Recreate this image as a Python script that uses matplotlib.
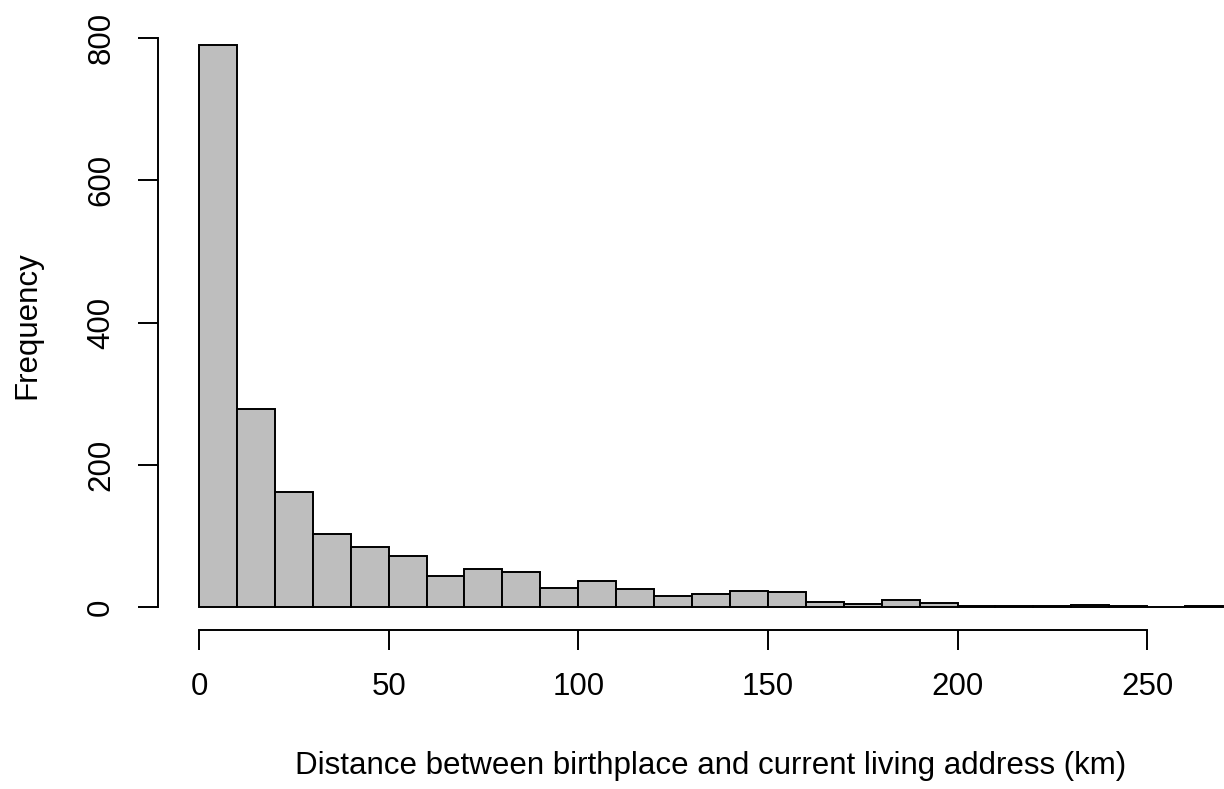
import numpy as np
import matplotlib
matplotlib.use('Agg')
import matplotlib.pyplot as plt

plt.rcParams['font.family'] = ['Liberation Sans', 'DejaVu Sans']

# histogram bins (km) and counts
bin_edges = list(range(0, 280, 10))
counts = [790, 279, 162, 102, 85, 72, 44, 53, 49, 27, 36, 25, 15, 18,
          23, 21, 7, 4, 10, 6, 2, 2, 2, 3, 2, 0, 1]
x_ticks = [0, 50, 100, 150, 200, 250]
y_ticks = [0, 200, 400, 600, 800]

fs = 22.5
lw = 1.4

fig = plt.figure(figsize=(12.24, 7.89), dpi=100)
# plot region like R's, right side runs past the figure edge
ax = fig.add_axes([158/1224, 159.5/789, 1106/1224, 606.7/789])

ax.bar(bin_edges[:-1], counts, width=10, align='edge',
       color='#bebebe', edgecolor='black', linewidth=lw)

# R style 4% extension of the data range
xr = bin_edges[-1] - bin_edges[0]
ax.set_xlim(bin_edges[0] - 0.04*xr, bin_edges[-1] + 0.04*xr)
yr = max(counts)
ax.set_ylim(-0.04*yr, yr*1.04)

for s in ['top', 'right']:
    ax.spines[s].set_visible(False)
ax.spines['left'].set_bounds(y_ticks[0], y_ticks[-1])
ax.spines['bottom'].set_bounds(x_ticks[0], x_ticks[-1])
ax.spines['left'].set_linewidth(lw)
ax.spines['bottom'].set_linewidth(lw)

ax.set_xticks(x_ticks)
ax.set_yticks(y_ticks)
ax.tick_params(length=14.4, width=lw, labelsize=fs)
ax.tick_params(axis='x', pad=16)
ax.tick_params(axis='y', pad=26.5)
plt.setp(ax.get_yticklabels(), rotation=90, va='center', ha='center')

fig.text(0.5809, 15/789, 'Distance between birthplace and current living address (km)',
         fontsize=fs, ha='center', va='baseline')
fig.text(27/1224, 464/789, 'Frequency', fontsize=fs, rotation=90,
         ha='center', va='center')

fig.savefig('out.png', dpi=100)
